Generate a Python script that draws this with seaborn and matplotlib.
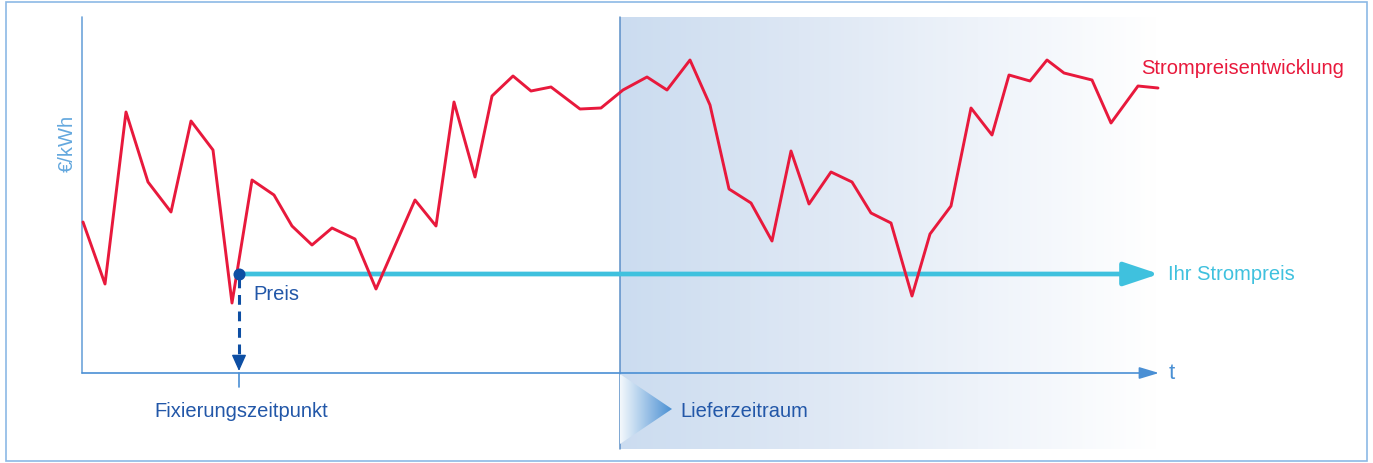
import numpy as np
import pandas as pd
import matplotlib
matplotlib.use("Agg")
import matplotlib.pyplot as plt
import seaborn as sns
from matplotlib.colors import LinearSegmentedColormap
from matplotlib.patches import Rectangle, Polygon

# ---- data (time and price in chart units) ----
time = [1, 23, 44, 66, 89, 109, 131, 150, 170, 192, 210, 230, 250, 273, 294, 333, 354, 372,
        393, 410, 431, 449, 469, 498, 519, 541, 565, 585, 608, 628, 647, 669, 690, 709, 727,
        749, 770, 789, 809, 830, 848, 869, 889, 910, 927, 948, 965, 982, 1010, 1029, 1056, 1076]
price = [151, 89, 261, 191, 161, 252, 223, 70, 193, 178, 147, 128, 145, 134, 84, 173, 147, 271,
         196, 277, 297, 282, 286, 264, 265, 283, 296, 283, 313, 268, 184, 170, 132, 222, 169,
         201, 191, 160, 150, 77, 139, 167, 265, 238, 298, 292, 313, 300, 293, 250, 287, 285]
fixed_price = 99
fix_time = 157
delivery_start = 538
delivery_end = 1075
axis_top = 356
axis_end = 1075

label_series = "Strompreisentwicklung"
label_fixed = "Ihr Strompreis"
label_point = "Preis"
label_fix_time = "Fixierungszeitpunkt"
label_delivery = "Lieferzeitraum"
label_y = "€/kWh"
label_x = "t"

RED = "#e8193c"
CYAN = "#3fc1de"
DARK = "#0d4ea3"
TXT = "#2257a8"
AXC = "#6ea4da"

sns.set_theme(style="white")
plt.rcParams["font.family"] = ["Liberation Sans", "DejaVu Sans"]

fig = plt.figure(figsize=(13.73, 4.64), dpi=100)
fig.patch.set_facecolor("white")
ax = fig.add_axes([0, 0, 1, 1])
ax.set_xlim(-82, 1291)
ax.set_ylim(-90, 374)
ax.axis("off")

# outer frame
ax.add_patch(Rectangle((-76, -88), 1361, 459, fill=False, edgecolor="#8cb9e5", lw=1.2, zorder=0))

# delivery period gradient
grad = LinearSegmentedColormap.from_list("g", ["#cbdcf0", "#dde7f4", "#eef3fa", "#ffffff"])
gx = np.linspace(0, 1, 256)[None, :]
ax.imshow(gx, cmap=grad, extent=(delivery_start, delivery_end, -76, axis_top), aspect="auto",
          origin="lower", zorder=0.5)
ax.plot([delivery_start, delivery_start], [-76, axis_top], color="#5b8fc8", lw=1.1, zorder=1)

# triangle marker of delivery period
tri = Polygon([(delivery_start, -1), (delivery_start, -71), (delivery_start + 52, -36)],
              closed=True, facecolor="none", edgecolor="none")
ax.add_patch(tri)
tg = LinearSegmentedColormap.from_list("t", ["#f4f8fc", "#4a90d3"])
im = ax.imshow(gx, cmap=tg, extent=(delivery_start, delivery_start + 52, -71, -1),
               aspect="auto", origin="lower", zorder=1.2)
im.set_clip_path(tri)

# axes lines
ax.plot([0, 0], [0, axis_top], color=AXC, lw=1.2, zorder=2)
ax.annotate("", xy=(axis_end + 2, 0), xytext=(0, 0),
            arrowprops=dict(arrowstyle="-|>,head_length=1.0,head_width=0.3",
                            mutation_scale=12, color="#4a8fd4", lw=1.2,
                            shrinkA=0, shrinkB=0), zorder=2)
ax.text(axis_end + 12, 0, label_x, color="#4a90d4", fontsize=16, ha="left", va="center")

# fixed price arrow
ax.annotate("", xy=(axis_end + 2, fixed_price), xytext=(fix_time, fixed_price),
            arrowprops=dict(arrowstyle="-|>,head_length=1.35,head_width=0.45",
                            mutation_scale=16, color=CYAN, lw=3.4,
                            shrinkA=0, shrinkB=0), zorder=3)

# price series
df = pd.DataFrame({"time": time, "price": price})
sns.lineplot(data=df, x="time", y="price", ax=ax, color=RED, lw=2.1,
             estimator=None, sort=False, zorder=4)

# fixing point dot + dashed arrow
ax.plot([fix_time, fix_time], [fixed_price - 4, 17], color=DARK, lw=2.2,
        dashes=(3.2, 2.2), zorder=5)
ax.annotate("", xy=(fix_time, 2), xytext=(fix_time, 17),
            arrowprops=dict(arrowstyle="-|>,head_length=1.0,head_width=0.45",
                            mutation_scale=10, color=DARK, lw=1,
                            shrinkA=0, shrinkB=0), zorder=5)
ax.plot([fix_time, fix_time], [0, -14], color="#4a8fd4", lw=1.2, zorder=5)
ax.scatter([fix_time], [fixed_price], s=75, color=DARK, zorder=6, linewidths=0)

# labels
ax.text(fix_time + 14, fixed_price - 20, label_point, color=TXT, fontsize=14.5, ha="left", va="center")
ax.text(fix_time + 2, -38, label_fix_time, color=TXT, fontsize=14.5, ha="center", va="center")
ax.text(delivery_start + 60, -38, label_delivery, color=TXT, fontsize=14.5, ha="left", va="center")
ax.text(1059, 306, label_series, color=RED, fontsize=14.5, ha="left", va="center")
ax.text(1086, fixed_price, label_fixed, color=CYAN, fontsize=14.5, ha="left", va="center")
ax.text(-15, 231, label_y, color="#64a8de", fontsize=14.5, ha="center", va="center", rotation=90)

fig.savefig("out.png", dpi=100, facecolor="white")
